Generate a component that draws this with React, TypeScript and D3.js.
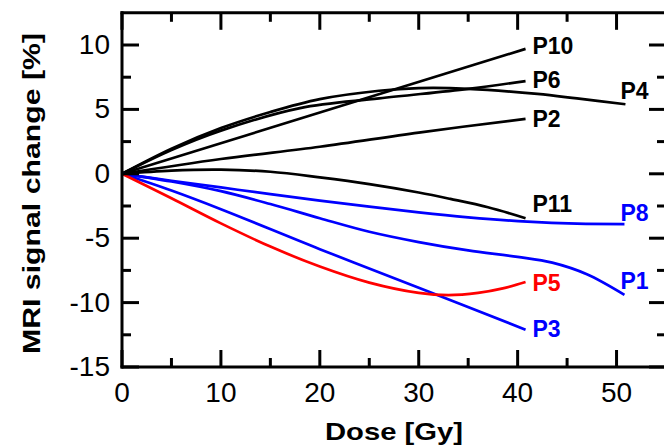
import React from 'react';
import * as d3 from 'd3';

// ---- data ----
const xTicks = [0, 10, 20, 30, 40, 50];
const xMinorTicks = [5, 15, 25, 35, 45];
const yTicks = [-15, -10, -5, 0, 5, 10];
const yMinorTicks = [-12.5, -7.5, -2.5, 2.5, 7.5];

// [dose (Gy), MRI signal change (%)]
const P10: [number, number][] = [[0, 0], [40.8, 9.7]];
const P6: [number, number][] = [[0, 0], [5, 1.85], [10, 3.35], [18, 5.1], [26, 5.85], [35, 6.6], [40.8, 7.2]];
const P4: [number, number][] = [[0, 0], [5, 1.95], [10, 3.55], [15, 4.8], [20, 5.8], [26, 6.45], [30, 6.65], [35, 6.6], [42, 6.2], [46, 5.85], [50.9, 5.4]];
const P2: [number, number][] = [[0, 0], [10, 1.15], [20, 2.1], [30, 3.2], [40.8, 4.27]];
const P11: [number, number][] = [[0, 0], [5, 0.25], [10, 0.32], [15, 0.16], [20, -0.28], [25, -0.8], [30, -1.45], [33.2, -1.95], [37, -2.6], [40.8, -3.45]];
const P8: [number, number][] = [[0, 0], [5, -0.54], [10, -1.06], [15, -1.58], [20, -2.08], [25, -2.55], [30, -3.0], [35, -3.38], [41, -3.72], [46, -3.87], [50.8, -3.9]];
const P1: [number, number][] = [[0, 0], [5, -0.6], [10, -1.35], [15, -2.35], [20, -3.45], [25, -4.5], [30, -5.3], [35, -5.95], [40, -6.45], [43.5, -6.9], [47, -7.8], [50.8, -9.4]];
const P3: [number, number][] = [[0, 0], [5, -1.3], [10, -2.75], [20, -5.85], [30, -8.85], [40.8, -12.1]];
const P5: [number, number][] = [[0, 0], [5, -1.9], [10, -3.85], [15, -5.65], [20, -7.2], [25, -8.45], [30, -9.25], [33, -9.42], [36, -9.25], [38.5, -8.9], [40.8, -8.4]];

const seriesNames = ['P10', 'P6', 'P4', 'P2', 'P11', 'P8', 'P1', 'P3', 'P5'];
const seriesData = [P10, P6, P4, P2, P11, P8, P1, P3, P5];
const seriesColors = ['#000000', '#000000', '#000000', '#000000', '#000000', '#0000ff', '#0000ff', '#0000ff', '#ff0000'];
// label anchors (left edge dose, vertical centre value)
const labelDose = [41.5, 41.5, 50.4, 41.5, 41.5, 50.4, 50.4, 41.5, 41.5];
const labelValue = [9.94, 7.3, 6.44, 4.27, -2.35, -3.03, -8.3, -12.03, -8.46];

const W = 664;
const H = 447;
const FONT = '"Liberation Sans", Arial, Helvetica, sans-serif';

export default function App() {
  const x = d3.scaleLinear().domain([0, 55]).range([122, 666]);
  const y = d3.scaleLinear().domain([-15, 12.5]).range([367, 12.8]);
  const line = d3
    .line<[number, number]>()
    .x((d) => x(d[0]))
    .y((d) => y(d[1]))
    .curve(d3.curveCatmullRom.alpha(0.5));

  const x0 = x(0), x1 = x(55), yb = y(-15), yt = y(12.5);
  const major = 17, minor = 9;
  const axisW = 3;

  return (
    <svg
      width={W}
      height={H}
      style={{ position: 'absolute', left: 0, top: 0, background: '#fff' }}
    >
      {/* series */}
      {seriesData.map((pts, i) => (
        <path key={seriesNames[i]} d={line(pts) || ''} fill="none" stroke={seriesColors[i]} strokeWidth={2.7} strokeLinejoin="round" />
      ))}
      {/* frame */}
      <g stroke="#000" strokeWidth={axisW} strokeLinecap="square">
        <line x1={x0} y1={yb} x2={x1} y2={yb} />
        <line x1={x0} y1={yt} x2={x1} y2={yt} />
        <line x1={x0} y1={yb} x2={x0} y2={yt} />
        <line x1={x1} y1={yb} x2={x1} y2={yt} />
      </g>
      {/* ticks */}
      <g stroke="#000" strokeWidth={axisW}>
        {xTicks.map((t) => (
          <g key={'xt' + t}>
            <line x1={x(t)} x2={x(t)} y1={yb} y2={yb - major} />
            <line x1={x(t)} x2={x(t)} y1={yt} y2={yt + major} />
          </g>
        ))}
        {xMinorTicks.map((t) => (
          <g key={'xm' + t}>
            <line x1={x(t)} x2={x(t)} y1={yb} y2={yb - minor} />
            <line x1={x(t)} x2={x(t)} y1={yt} y2={yt + minor} />
          </g>
        ))}
        {yTicks.map((t) => (
          <g key={'yt' + t}>
            <line x1={x0} x2={x0 + major} y1={y(t)} y2={y(t)} />
            <line x1={x1} x2={x1 - major} y1={y(t)} y2={y(t)} />
          </g>
        ))}
        {yMinorTicks.map((t) => (
          <g key={'ym' + t}>
            <line x1={x0} x2={x0 + minor} y1={y(t)} y2={y(t)} />
            <line x1={x1} x2={x1 - minor} y1={y(t)} y2={y(t)} />
          </g>
        ))}
      </g>
      {/* tick labels */}
      <g fontFamily={FONT} fontSize={28} fill="#000">
        {xTicks.map((t) => (
          <text key={'xl' + t} x={x(t)} y={yb + 35} textAnchor="middle">{t}</text>
        ))}
        {yTicks.map((t) => (
          <text key={'yl' + t} x={110} y={y(t) + 9} textAnchor="end">{t}</text>
        ))}
      </g>
      {/* series labels */}
      <g fontFamily={FONT} fontSize={23} fontWeight="bold">
        {seriesNames.map((n, i) => (
          <text key={'lab' + n} x={x(labelDose[i])} y={y(labelValue[i])} dy="0.35em" fill={seriesColors[i]}>{n}</text>
        ))}
      </g>
      {/* axis titles */}
      <text x={394} y={440} textAnchor="middle" fontFamily={FONT} fontSize={24} fontWeight="bold" textLength={138} lengthAdjust="spacingAndGlyphs">Dose [Gy]</text>
      <text transform="translate(40,193.5) rotate(-90)" textAnchor="middle" fontFamily={FONT} fontSize={24.5} fontWeight="bold" textLength={321} lengthAdjust="spacingAndGlyphs">MRI signal change [%]</text>
    </svg>
  );
}
